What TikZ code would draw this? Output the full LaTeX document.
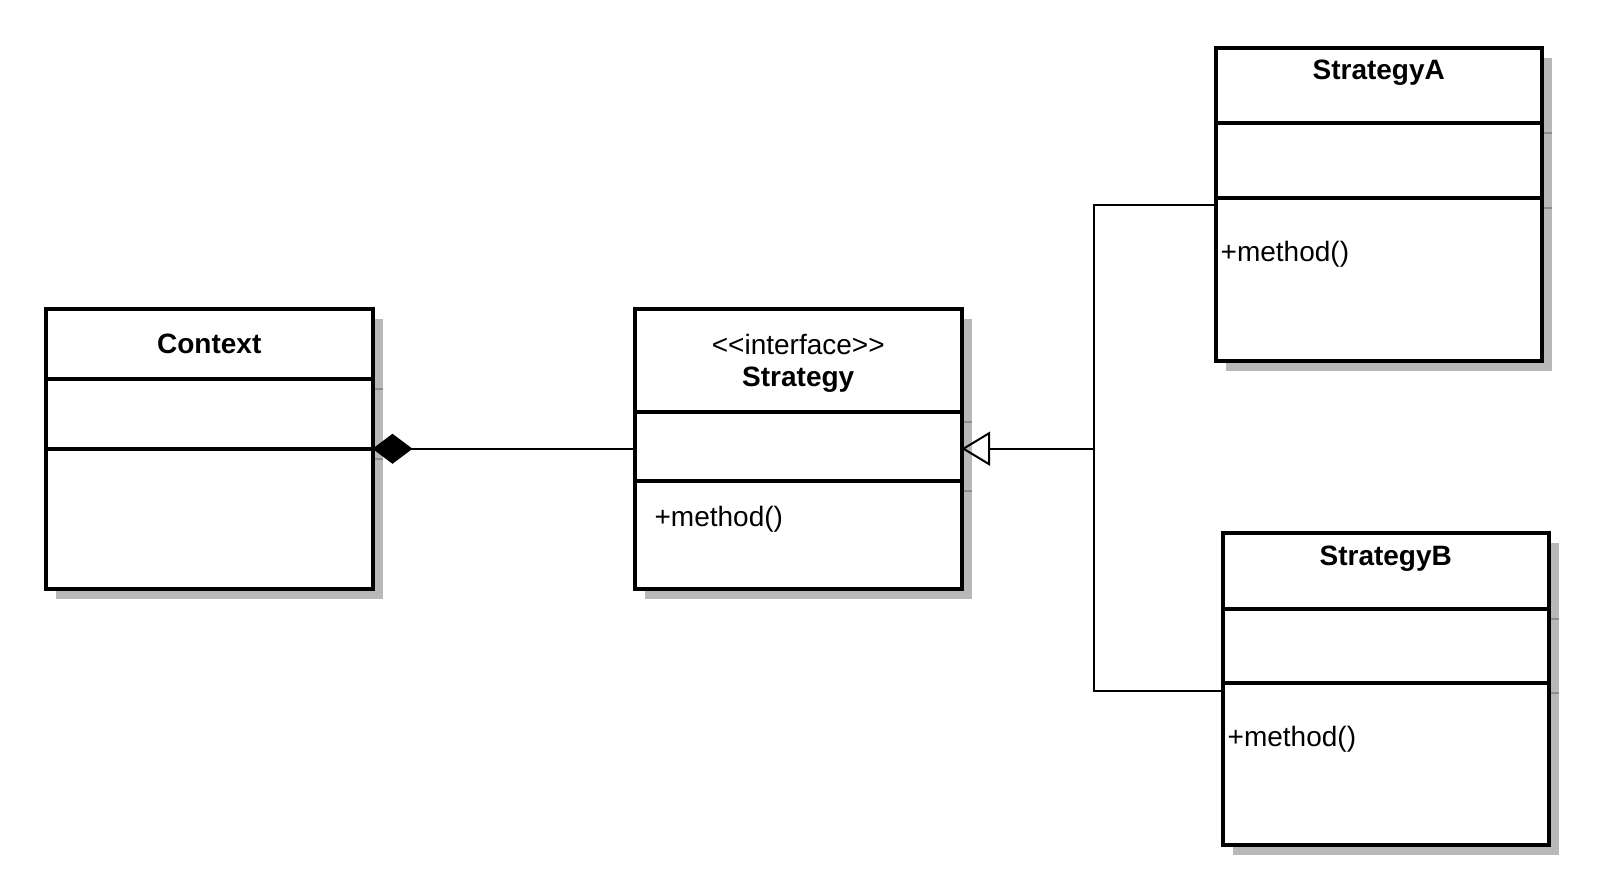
\documentclass[tikz,border=0pt]{standalone}
\usepackage{fontspec}
\setmainfont{Liberation Sans}
\usetikzlibrary{positioning,shadows,arrows.meta}
\tikzstyle{compart} = [rectangle, draw, line width=2pt, fill=white,
    minimum width=163.25pt, inner sep=0pt, outer sep=0pt,
    drop shadow={shadow xshift=5pt, shadow yshift=-5pt, fill=black!28, opacity=1}]
\tikzstyle{line} = [draw, line width=1pt]
\tikzstyle{compose} = [line, {Diamond[length=20pt,width=15pt]}-]
\tikzstyle{inherit} = [line, {Triangle[open,length=14.3pt,width=17pt]}-]
\tikzstyle{optext} = [anchor=west, inner sep=0pt]
\newcommand{\shadowticks}[1]{%
  % darker marks where the compartment shadows meet
  \draw[black!45, line width=1pt] ([shift={(1pt,-5pt)}]#1attr.north east) -- ++(4pt,0);
  \draw[black!45, line width=1pt] ([shift={(1pt,-5pt)}]#1ops.north east) -- ++(4pt,0);}

\begin{document}
\fontsize{14}{16.25}\selectfont
\begin{tikzpicture}[x=0.5pt, y=-0.5pt]
        \useasboundingbox (0,0) rectangle (1600,893);
        % Place nodes
        % 1. Context class
        \node [compart, anchor=north west, minimum height=35.2pt, font=\bfseries] (ctxhead) at (46,309) {Context};
        \node [compart, below=0pt of ctxhead, minimum height=34.7pt] (ctxattr) {};
        \node [compart, below=0pt of ctxattr, minimum height=69.9pt] (ctxops) {};

        % 2. Strategy interface
        \node [compart, anchor=north west, minimum height=51.5pt, align=center] (strhead) at (635,309)
              {\rule{0pt}{13.2pt}{<}{<}interface{>}{>}\\\textbf{Strategy}};
        \node [compart, below=0pt of strhead, minimum height=34.7pt] (strattr) {};
        \node [compart, below=0pt of strattr, minimum height=53.6pt] (strops) {};
        \node [optext] (strmeth) at ([shift={(9.6pt,-18.7pt)}]strops.north west) {+method()};

        % 3. Concrete strategies
        \node [compart, anchor=north west, minimum height=37.75pt, font=\bfseries,
               text height=10pt, text depth=15.75pt] (ahead) at (1215.5,48) {StrategyA};
        \node [compart, below=0pt of ahead, minimum height=37.25pt] (aattr) {};
        \node [compart, below=0pt of aattr, minimum height=81.6pt] (aops) {};
        \node [optext] (ameth) at ([shift={(2.4pt,-28pt)}]aops.north west) {+method()};

        \node [compart, anchor=north west, minimum height=37.75pt, font=\bfseries,
               text height=10pt, text depth=15.75pt] (bhead) at (1222.5,533) {StrategyB};
        \node [compart, below=0pt of bhead, minimum height=37.25pt] (battr) {};
        \node [compart, below=0pt of battr, minimum height=81pt] (bops) {};
        \node [optext] (bmeth) at ([shift={(2.4pt,-28pt)}]bops.north west) {+method()};

        \shadowticks{ctx}
        \shadowticks{str}
        \shadowticks{a}
        \shadowticks{b}

        % Draw edges
        \path [compose] (ctxops.north east) -- (ctxops.north east -| strattr.west);
        \path [inherit] ([yshift=-1pt]strattr.east) -- ++(132,0) coordinate (junc) |- ([yshift=-3.5pt]aops.north west);
        \path [line] (junc) |- ([yshift=-4pt]bops.north west);

      \end{tikzpicture}
\end{document}
